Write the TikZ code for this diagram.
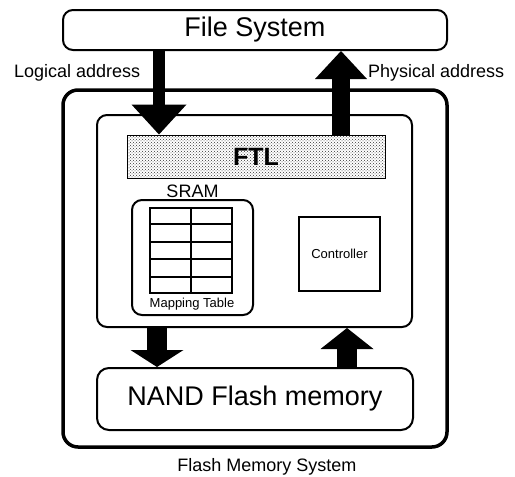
\documentclass[tikz,border=0pt]{standalone}
\usepackage{fontspec}
\setmainfont{Liberation Sans}
\usetikzlibrary{calc,arrows.meta,patterns}

\tikzset{
  roundbox/.style={draw, rounded corners=10pt, line width=2pt, inner sep=0pt},
  plainbox/.style={draw, inner sep=0pt},
  fatarrow/.style n args={3}{line width=#1, -{Triangle[width=#2,length=#3,line width=0pt]}},
  small/.style={font=\fontsize{13}{15}\selectfont},
  medium/.style={font=\fontsize{18}{21}\selectfont},
  large/.style={font=\fontsize{27}{31}\selectfont}
}

\begin{document}
\begin{tikzpicture}[x=1pt,y=-1pt]
  \useasboundingbox (0,0) rectangle (515,477);

  % host side
  \node[roundbox, large, minimum width=384pt, minimum height=40pt] (filesys) at (255,30) {File System};
  \node[medium, anchor=west, inner sep=0pt] (logaddr) at (14,73) {Logical address};
  \node[medium, anchor=west, inner sep=0pt] (physaddr) at (368,73) {Physical address};

  % flash memory system
  \node[draw, rounded corners=15pt, line width=3.5pt, minimum width=384pt, minimum height=357pt] (fms) at (255,268.5) {};
  \node[medium] (fmslabel) at (267,467) {Flash Memory System};
  \node[roundbox, minimum width=315pt, minimum height=212pt] (inner) at (254.5,221) {};
  \node[plainbox, line width=1pt, fill=black!12, pattern=crosshatch dots, pattern color=black!80,
        minimum width=258pt, minimum height=43pt] (ftl) at (256,156.5) {};
  \node[font=\fontsize{25}{29}\selectfont\bfseries, inner sep=0pt] (ftllabel) at (ftl.center) {FTL};

  % SRAM with the mapping table
  \node[roundbox, minimum width=121pt, minimum height=115pt] (sram) at (192.5,257.5) {};
  \node[medium, anchor=south, inner sep=1pt] (sramlabel) at (sram.north) {SRAM};
  \node[plainbox, line width=2pt, minimum width=82pt, minimum height=85pt] (maptable) at (191,250.5) {};
  \draw[line width=2pt] (maptable.north) -- (maptable.south);
  \foreach \r in {1,...,4}
    \draw[line width=2pt] ($(maptable.north west)!\r/5!(maptable.south west)$) -- ($(maptable.north east)!\r/5!(maptable.south east)$);
  \node[small] (maplabel) at (192,304) {Mapping Table};

  \node[plainbox, line width=1.5pt, small, minimum width=81pt, minimum height=74pt] (controller) at (339.5,254) {Controller};

  % flash chip
  \node[roundbox, large, rounded corners=12pt, minimum width=316pt, minimum height=62pt] (nand) at (255,399) {NAND Flash memory};

  % data paths
  \coordinate (la) at (159,0);
  \coordinate (pa) at (341,0);
  \coordinate (wr) at (157,0);
  \coordinate (rd) at (347,0);
  \draw[fatarrow={12.5pt}{55pt}{30pt}] (la |- filesys.south) -- (la |- ftl.north);
  \draw[fatarrow={18pt}{52pt}{28pt}] (pa |- ftl.north) -- (pa |- filesys.south);
  \draw[fatarrow={20pt}{53pt}{17pt}] (wr |- inner.south) -- (wr |- nand.north);
  \draw[fatarrow={20pt}{53pt}{21pt}] (rd |- nand.north) -- (rd |- inner.south);
\end{tikzpicture}
\end{document}
